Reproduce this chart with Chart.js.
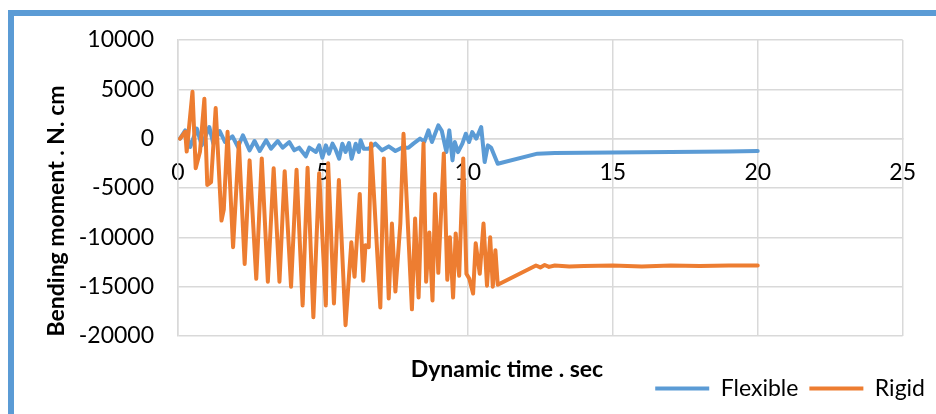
<!DOCTYPE html>
<html>
<head>
<meta charset="utf-8">
<script src="https://cdn.jsdelivr.net/npm/chart.js@4"></script>
<style>
  body { margin: 0; background: #fff; }
  #wrap { position: relative; width: 936px; height: 414px; overflow: hidden; }
  #frame { position: absolute; left: 8px; top: 10px; right: -10px; bottom: -10px;
           border-left: 6px solid #5B9BD5; border-top: 6px solid #5B9BD5; }
  #chart { position: absolute; left: 0; top: 0; }
</style>
</head>
<body>
<div id="wrap">
  <div id="frame"></div>
  <canvas id="chart" width="936" height="414"></canvas>
</div>
<script>
// Flexible arm (blue)
const flexTime = [0.07,0.25,0.42,0.65,0.82,1.08,1.22,1.44,1.62,1.88,2.07,2.24,2.47,2.64,2.82,3.04,3.21,3.44,3.61,3.84,4.01,4.18,4.41,4.53,4.76,4.87,4.98,5.1,5.21,5.33,5.44,5.56,5.67,5.78,5.9,5.99,6.13,6.24,6.3,6.41,6.58,6.81,7.04,7.27,7.5,7.72,7.95,8.12,8.35,8.5,8.64,8.76,8.98,9.1,9.26,9.36,9.47,9.55,9.66,9.81,9.93,10.04,10.15,10.29,10.46,10.58,10.69,10.8,11.03,12.4,13,14,15,16,17,18,19,20]
const flexMoment = [0,845,-845,1014,-676,1183,-507,777,-338,237,-845,338,-1183,-237,-1250,-169,-1014,-237,-913,-338,-1183,-913,-1791,-913,-1352,-676,-1927,-676,-1521,-507,-1115,-2028,-507,-1352,-440,-2028,-507,-1352,-169,-1014,-1014,-507,-1183,-778,-1250,-913,-913,-500,0,-300,840,-340,1350,800,-1350,840,-2200,-340,-1360,-510,500,-340,670,0,1180,-2370,-680,-900,-2540,-1520,-1460,-1420,-1400,-1380,-1340,-1320,-1290,-1260]

// Rigid arm (orange)
const rigidTime = [0.07,0.25,0.3,0.5,0.61,0.76,0.91,1.01,1.14,1.3,1.5,1.58,1.71,1.9,2.1,2.3,2.47,2.7,2.89,3.1,3.3,3.5,3.68,3.9,4.09,4.3,4.47,4.67,4.87,5.1,5.18,5.38,5.55,5.78,5.98,6.09,6.27,6.39,6.47,6.58,6.66,6.98,7.1,7.27,7.38,7.5,7.67,7.78,8.07,8.18,8.3,8.47,8.56,8.67,8.78,8.87,8.98,9.17,9.29,9.38,9.49,9.58,9.7,9.84,9.95,10.05,10.18,10.27,10.41,10.54,10.66,10.77,10.86,10.95,11.03,12.35,12.5,12.65,12.8,13,13.5,14,15,16,17,18,19,20]
const rigidMoment = [0,700,-1300,4750,-3000,-1300,4050,-4700,-4400,3100,-8300,-7200,700,-11000,-400,-12700,-2200,-14200,-2000,-14500,-3000,-14500,-3300,-15000,-3150,-16900,-2950,-18100,-3500,-16900,-2500,-16700,-4200,-18900,-10500,-14000,-5600,-14400,-10800,-11000,-500,-17100,-2000,-16200,-8600,-15500,-8600,500,-17300,-8100,-16100,-500,-14500,-9500,-16400,-5600,-13600,-1500,-14300,-10000,-16100,-9600,-13900,-2000,-13700,-14200,-15700,-10600,-13700,-8600,-14900,-10000,-15000,-11300,-14800,-12850,-13050,-12800,-13000,-12850,-12950,-12900,-12850,-12950,-12850,-12900,-12850,-12850]

const seriesNames = ['Flexible', 'Rigid']
const xTitle = 'Dynamic time . sec'
const yTitle = 'Bending moment . N. cm'

const BLUE = '#5B9BD5'
const ORANGE = '#ED7D31'
const GRID = '#d9d9d9'

function toPoints(xs, ys) {
    return xs.map((x, i) => ({x: x, y: ys[i]}))
}

Chart.defaults.font.family = 'Lato'
Chart.defaults.font.size = 23
Chart.defaults.color = '#000'

// axis titles sit where excel put them, not centred on the plot
const axisTitles = {
    id: 'axisTitles',
    afterDraw(chart) {
        const ctx = chart.ctx
        ctx.save()
        ctx.fillStyle = '#000'
        ctx.font = 'bold 23px Lato'
        ctx.textAlign = 'center'
        ctx.textBaseline = 'middle'
        ctx.fillText(xTitle, 507, 370)
        ctx.translate(57, 211)
        ctx.rotate(-Math.PI / 2)
        ctx.fillText(yTitle, 0, 0)
        ctx.restore()
    }
}

const lineStyle = {
    borderWidth: 4,
    pointRadius: 0,
    pointStyle: 'line',
    tension: 0,
    borderCapStyle: 'round',
    borderJoinStyle: 'round',
    fill: false
}

new Chart(document.getElementById('chart'), {
    type: 'line',
    data: {
        datasets: [
            Object.assign({
                label: seriesNames[0],
                data: toPoints(flexTime, flexMoment),
                borderColor: BLUE,
                backgroundColor: BLUE,
                order: 1
            }, lineStyle),
            Object.assign({
                label: seriesNames[1],
                data: toPoints(rigidTime, rigidMoment),
                borderColor: ORANGE,
                backgroundColor: ORANGE,
                order: 0
            }, lineStyle)
        ]
    },
    options: {
        responsive: false,
        animation: false,
        devicePixelRatio: 1,
        layout: { padding: { top: 40, bottom: 4, left: 0, right: 0 } },
        plugins: {
            tooltip: { enabled: false },
            legend: {
                position: 'bottom',
                align: 'end',
                labels: {
                    usePointStyle: true,
                    pointStyle: 'line',
                    pointStyleWidth: 54,
                    padding: 11,
                    color: '#000',
                    font: { family: 'Lato', size: 23 },
                    sort: (a, b) => a.datasetIndex - b.datasetIndex
                }
            }
        },
        scales: {
            x: {
                type: 'linear',
                position: { y: 0 },
                min: 0,
                max: 25,
                ticks: { stepSize: 5, padding: 20, maxRotation: 0, color: '#000' },
                grid: { color: GRID, lineWidth: 1.5, drawTicks: false },
                border: { color: GRID, width: 1.5 }
            },
            // empty bottom axis: leaves room for the x title above the legend
            xSpace: {
                axis: 'x',
                type: 'linear',
                position: 'bottom',
                min: 0,
                max: 25,
                ticks: { display: false },
                grid: { display: false, drawTicks: false },
                border: { display: false },
                afterFit(s) { s.height = 30 }
            },
            y: {
                type: 'linear',
                min: -20000,
                max: 10000,
                ticks: { stepSize: 5000, padding: 24, color: '#000', callback: v => v.toString() },
                grid: { color: GRID, lineWidth: 1.5, drawTicks: false },
                border: { color: GRID, width: 1.5 },
                afterFit(s) { s.width = 178 }
            },
            ySpace: {
                axis: 'y',
                type: 'linear',
                position: 'right',
                min: -20000,
                max: 10000,
                ticks: { display: false },
                grid: { display: false, drawTicks: false },
                border: { display: false },
                afterFit(s) { s.width = 30 }
            }
        }
    },
    plugins: [axisTitles]
})
</script>
</body>
</html>
